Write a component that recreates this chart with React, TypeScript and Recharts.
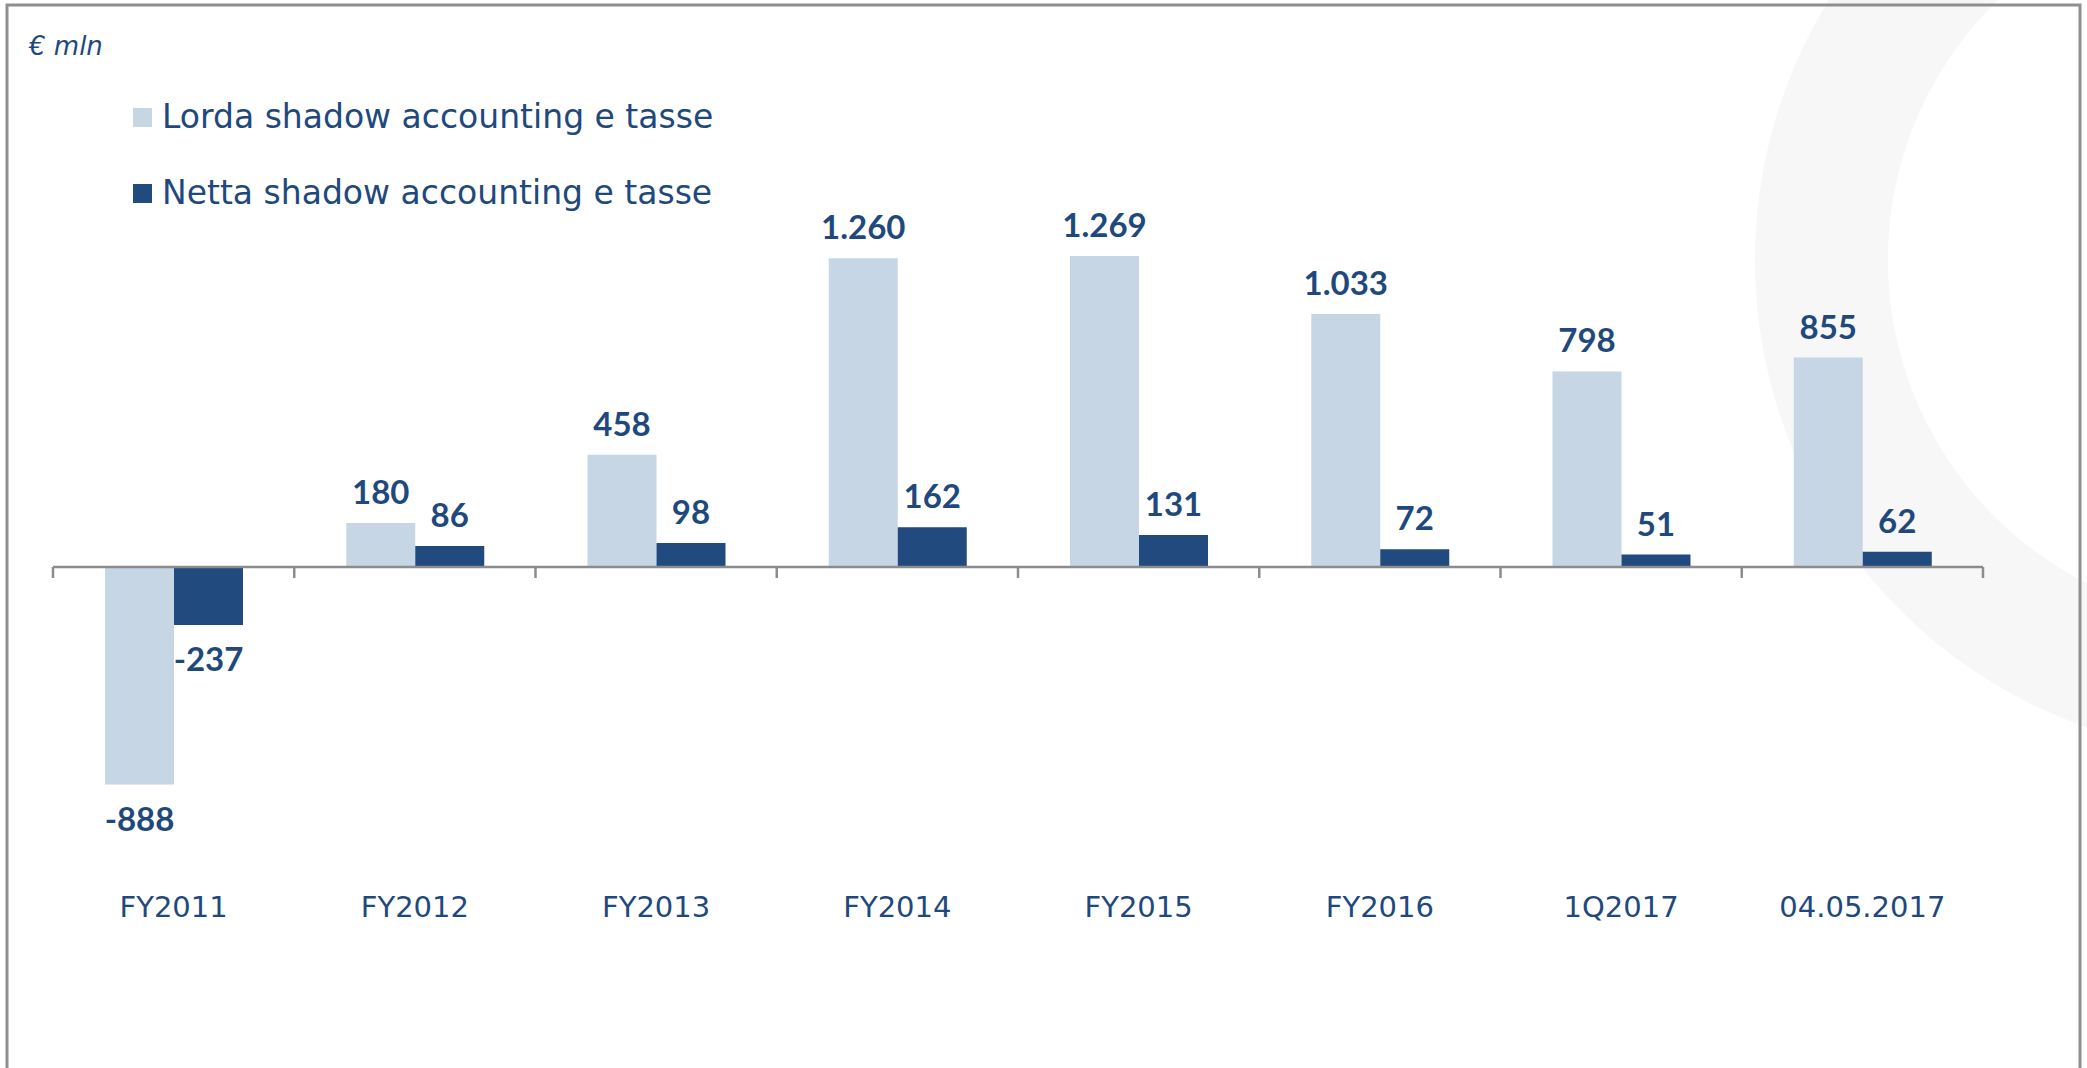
import { BarChart, Bar, XAxis, YAxis, ReferenceLine, LabelList, Legend } from "recharts";

const categories = ["FY2011", "FY2012", "FY2013", "FY2014", "FY2015", "FY2016", "1Q2017", "04.05.2017"];
const lordaValues = [-888, 180, 458, 1260, 1269, 1033, 798, 855];
const nettaValues = [-237, 86, 98, 162, 131, 72, 51, 62];
const seriesNames = ["Lorda shadow accounting e tasse", "Netta shadow accounting e tasse"];
const unitLabel = "€ mln";

// pos = indice della categoria + 0.5 (centro della banda), usato dall'asse numerico nascosto
const data = categories.map((name, i) => ({ name, pos: i + 0.5, lorda: lordaValues[i], netta: nettaValues[i] }));
// bordi delle categorie (per i tick dell'asse a zero)
const boundaries = categories.map((_, i) => i).concat(categories.length);

const TEXT = "#1F497D";
const LIGHT = "#C6D6E4";
const DARK = "#214A7E";
const GRID = "#8C8C8C";

// formato italiano: 1.260
const fmt = (v: number) => {
  const s = String(Math.abs(v)).replace(/\B(?=(\d{3})+(?!\d))/g, ".");
  return v < 0 ? "-" + s : s;
};

const renderValueLabel = (props: any) => {
  const { x, y, width, height, value } = props;
  const top = Math.min(y, y + height);
  const bottom = Math.max(y, y + height);
  const ty = value >= 0 ? top - 19 : bottom + 46;
  return (
    <text x={x + width / 2} y={ty} textAnchor="middle" fontFamily="Lato" fontWeight={700} fontSize={33} fill={TEXT}>
      {fmt(value)}
    </text>
  );
};

const CategoryTick = (props: any) => {
  const { x, y, payload } = props;
  return (
    <text x={x} y={y + 105} textAnchor="middle" fontFamily="DejaVu Sans" fontSize={29} fill={TEXT}>
      {payload.value}
    </text>
  );
};

const renderLegend = (props: any) => {
  const { payload } = props;
  return (
    <div>
      {payload.map((entry: any, i: number) => (
        <div key={`leg-${i}`} style={{ display: "flex", alignItems: "center", height: 40, marginBottom: 36 }}>
          <div style={{ width: 19, height: 19, background: entry.color, marginRight: 10 }} />
          <span style={{ fontFamily: "DejaVu Sans", fontSize: 33, color: TEXT, lineHeight: "40px", whiteSpace: "nowrap" }}>
            {entry.value}
          </span>
        </div>
      ))}
    </div>
  );
};

export default function App() {
  return (
    <div style={{ position: "absolute", left: 0, top: 0, width: 2087, height: 1068, overflow: "hidden", background: "#fff" }}>
      {/* cornice e filigrana */}
      <svg width={2087} height={1068} style={{ position: "absolute", left: 0, top: 0 }}>
        <path
          d="M 2250 -235 A 495 495 0 1 0 2250.1 -235 Z M 2250 -102 A 362 362 0 1 1 2249.9 -102 Z"
          fill="#F7F7F7"
          fillRule="evenodd"
        />
        <rect x={7} y={5} width={2073} height={1100} fill="none" stroke="#8F8F8F" strokeWidth={3} />
        <text x={29} y={55} fontFamily="DejaVu Sans" fontStyle="italic" fontSize={26} fill={TEXT}>
          {unitLabel}
        </text>
      </svg>
      <div style={{ position: "absolute", left: 0, top: 0 }}>
        <BarChart
          width={2087}
          height={1068}
          data={data}
          margin={{ top: 224, right: 104, bottom: 196, left: 53 }}
          barGap={0}
        >
          <XAxis
            xAxisId="cat"
            dataKey="name"
            axisLine={false}
            tickLine={false}
            tickSize={0}
            tickMargin={0}
            height={60}
            interval={0}
            tick={<CategoryTick />}
          />
          <XAxis
            xAxisId="n"
            dataKey="pos"
            type="number"
            scale="linear"
            domain={[0, categories.length]}
            allowDataOverflow
            hide
          />
          <YAxis type="number" domain={[-1000, 1400]} allowDataOverflow hide />
          <Legend
            layout="horizontal"
            verticalAlign="middle"
            align="center"
            content={renderLegend}
            wrapperStyle={{ left: 133, top: 97, width: 800 }}
          />
          <Bar xAxisId="cat" dataKey="lorda" name={seriesNames[0]} fill={LIGHT} barSize={69} isAnimationActive={false}>
            <LabelList dataKey="lorda" content={renderValueLabel} />
          </Bar>
          <Bar xAxisId="cat" dataKey="netta" name={seriesNames[1]} fill={DARK} barSize={69} isAnimationActive={false}>
            <LabelList dataKey="netta" content={renderValueLabel} />
          </Bar>
          <ReferenceLine xAxisId="n" y={0} stroke={GRID} strokeWidth={2.5} />
          {boundaries.map((b) => (
            <ReferenceLine
              key={`tick-${b}`}
              xAxisId="n"
              segment={[{ x: b, y: 0 }, { x: b, y: -45 }]}
              stroke={GRID}
              strokeWidth={2.5}
              ifOverflow="visible"
            />
          ))}
        </BarChart>
      </div>
    </div>
  );
}
